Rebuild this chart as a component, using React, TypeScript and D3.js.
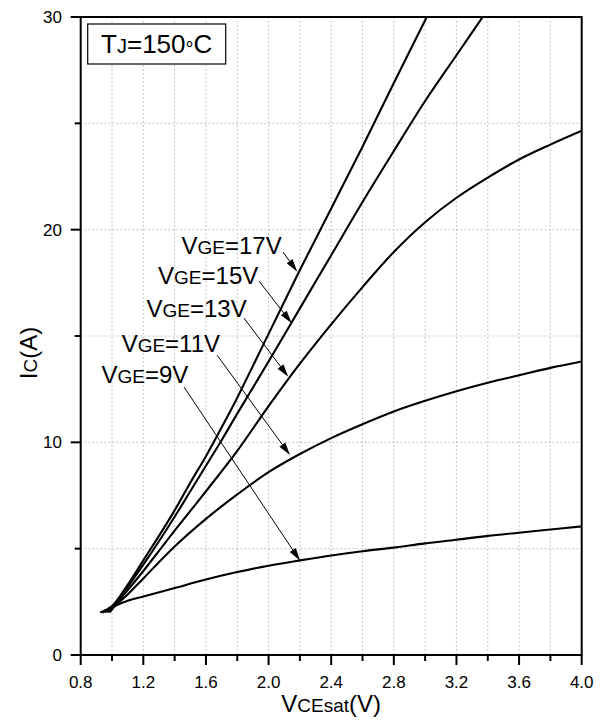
import React from 'react';
import * as d3 from 'd3';

// ---- data: [VCEsat (V), IC (A)] ----
const vge17: [number, number][] = [[0.925,2.0],[1.0,2.3],[1.1,3.3],[1.2,4.45],[1.3,5.6],[1.4,6.8],[1.5,8.1],[1.6,9.35],[1.7,10.7],[1.8,12.1],[2.0,15.1],[2.2,18.1],[2.4,21.0],[2.6,23.9],[2.8,26.9],[3.0,29.85],[3.05,30.6]];
const vge15: [number, number][] = [[0.94,2.0],[1.005,2.3],[1.1,3.2],[1.2,4.25],[1.3,5.35],[1.4,6.5],[1.5,7.7],[1.6,8.9],[1.7,10.1],[1.8,11.35],[2.0,13.8],[2.2,16.3],[2.4,18.8],[2.6,21.3],[2.8,23.7],[3.0,26.05],[3.2,28.2],[3.4,30.35]];
const vge13: [number, number][] = [[0.955,2.0],[1.01,2.3],[1.1,3.05],[1.2,3.95],[1.3,4.9],[1.4,5.85],[1.6,7.7],[1.8,9.6],[2.0,11.7],[2.2,13.7],[2.4,15.55],[2.6,17.3],[2.8,18.95],[3.0,20.35],[3.2,21.5],[3.4,22.45],[3.6,23.3],[3.8,24.0],[4.0,24.65]];
const vge11: [number, number][] = [[0.97,2.0],[1.015,2.3],[1.1,2.85],[1.2,3.6],[1.4,5.1],[1.6,6.4],[1.8,7.55],[2.0,8.6],[2.2,9.45],[2.4,10.2],[2.6,10.85],[2.8,11.45],[3.0,11.95],[3.2,12.4],[3.4,12.8],[3.6,13.15],[3.8,13.5],[4.0,13.8]];
const vge9: [number, number][] = [[0.985,2.0],[1.02,2.3],[1.1,2.55],[1.2,2.75],[1.4,3.15],[1.6,3.55],[1.8,3.9],[2.0,4.2],[2.2,4.45],[2.4,4.68],[2.6,4.88],[2.8,5.05],[3.0,5.25],[3.2,5.42],[3.4,5.6],[3.6,5.75],[3.8,5.9],[4.0,6.05]];

const series = [vge17, vge15, vge13, vge11, vge9];

const xMajorTicks = [0.8, 1.2, 1.6, 2.0, 2.4, 2.8, 3.2, 3.6, 4.0];
const xMinorTicks = [1.0, 1.4, 1.8, 2.2, 2.6, 3.0, 3.4, 3.8];
const xGrid = [1.0, 1.2, 1.4, 1.6, 1.8, 2.0, 2.2, 2.4, 2.6, 2.8, 3.0, 3.2, 3.4, 3.6, 3.8];
const yMajorTicks = [0, 10, 20, 30];
const yMinorTicks = [5, 15, 25];
const yGrid = [5, 10, 15, 20, 25];

const labelVoltages = ['17V', '15V', '13V', '11V', '9V'];
// label end point, arrow start, arrow tip (data units)
const labelEnd: [number, number][] = [[2.084,18.86],[1.934,17.44],[1.86,15.89],[1.69,14.25],[1.487,12.79]];
const arrowFrom: [number, number][] = [[2.092,18.95],[1.939,17.58],[1.843,15.84],[1.671,14.1],[1.46,12.6]];
const arrowTo: [number, number][] = [[2.183,18.02],[2.148,15.6],[2.126,13.08],[2.137,9.4],[2.201,4.43]];

const FONT = '"Liberation Sans", Arial, Helvetica, sans-serif';

export default function App() {
  const W = 607, H = 722;
  const left = 80.7, right = 581.7, top = 17, bottom = 655;
  const x = d3.scaleLinear().domain([0.8, 4.0]).range([left, right]);
  const y = d3.scaleLinear().domain([0, 30]).range([bottom, top]);
  const line = d3.line<[number, number]>()
    .x(d => x(d[0]))
    .y(d => y(d[1]))
    .curve(d3.curveCatmullRom.alpha(0.5));

  const arrows = arrowFrom.map((f, i) => {
    const x0 = x(f[0]), y0 = y(f[1]);
    const x1 = x(arrowTo[i][0]), y1 = y(arrowTo[i][1]);
    const dx = x1 - x0, dy = y1 - y0;
    const len = Math.hypot(dx, dy);
    const ux = dx / len, uy = dy / len;
    const hl = 13, hw = 3.6;
    const bx = x1 - ux * hl, by = y1 - uy * hl;
    const px = -uy, py = ux;
    return {
      x0, y0, bx, by,
      head: `${x1},${y1} ${bx + px * hw},${by + py * hw} ${bx - px * hw},${by - py * hw}`,
    };
  });

  return (
    <svg width={W} height={H} style={{ position: 'absolute', left: 0, top: 0, background: '#fff' }} fontFamily={FONT}>
      <defs>
        <clipPath id="plotClip">
          <rect x={left} y={top} width={right - left} height={bottom - top} />
        </clipPath>
      </defs>
      <rect x={0} y={0} width={W} height={H} fill="#fff" />
      {/* grid */}
      {xGrid.map(v => (
        <line key={'gx' + v} x1={x(v)} x2={x(v)} y1={top} y2={bottom} stroke="#b4b4b4" strokeWidth={1} strokeDasharray="1.5,2.5" />
      ))}
      {yGrid.map(v => (
        <line key={'gy' + v} x1={left} x2={right} y1={y(v)} y2={y(v)} stroke="#b4b4b4" strokeWidth={1} strokeDasharray="1.5,2.5" />
      ))}
      {/* curves */}
      <g clipPath="url(#plotClip)">
        {series.map((s, i) => (
          <path key={i} d={line(s) || ''} fill="none" stroke="#000" strokeWidth={2.1} strokeLinejoin="round" />
        ))}
      </g>
      {/* frame */}
      <rect x={left} y={top} width={right - left} height={bottom - top} fill="none" stroke="#000" strokeWidth={2} />
      {/* x ticks */}
      {xMajorTicks.map(v => (
        <g key={'xt' + v}>
          <line x1={x(v)} x2={x(v)} y1={bottom} y2={bottom + 10} stroke="#000" strokeWidth={2} />
          <text x={x(v)} y={688} textAnchor="middle" fontSize={17} fill="#000">{v.toFixed(1)}</text>
        </g>
      ))}
      {xMinorTicks.map(v => (
        <line key={'xm' + v} x1={x(v)} x2={x(v)} y1={bottom} y2={bottom + 6} stroke="#000" strokeWidth={2} />
      ))}
      {/* y ticks */}
      {yMajorTicks.map(v => (
        <g key={'yt' + v}>
          <line x1={left} x2={left - 10} y1={y(v)} y2={y(v)} stroke="#000" strokeWidth={2} />
          <text x={62} y={y(v) + 6} textAnchor="end" fontSize={17} fill="#000">{v}</text>
        </g>
      ))}
      {yMinorTicks.map(v => (
        <line key={'ym' + v} x1={left} x2={left - 6} y1={y(v)} y2={y(v)} stroke="#000" strokeWidth={2} />
      ))}
      {/* axis titles */}
      <text x={(left + right) / 2} y={712} textAnchor="middle" fontSize={24} fill="#000">
        V<tspan fontSize={19}>CEsat</tspan>(V)
      </text>
      <text transform={`translate(37,353) rotate(-90)`} textAnchor="middle" fontSize={24} fill="#000">
        I<tspan fontSize={19}>C</tspan>(A)
      </text>
      {/* TJ box */}
      <rect x={87.7} y={24} width={138} height={40} fill="#fff" stroke="#000" strokeWidth={1.2} />
      <text x={156.7} y={53.3} textAnchor="middle" fontSize={26} fill="#000">
        T<tspan fontSize={20}>J</tspan>=150<tspan fontSize={20} dy={3}>°</tspan><tspan dy={-3}>C</tspan>
      </text>
      {/* annotations */}
      {labelVoltages.map((lv, i) => (
        <text key={'lb' + i} x={x(labelEnd[i][0])} y={y(labelEnd[i][1])} textAnchor="end" fontSize={24} fill="#000">
          V<tspan fontSize={19}>GE</tspan>={lv}
        </text>
      ))}
      {arrows.map((a, i) => (
        <g key={'ar' + i}>
          <line x1={a.x0} y1={a.y0} x2={a.bx} y2={a.by} stroke="#000" strokeWidth={1} />
          <polygon points={a.head} fill="#000" />
        </g>
      ))}
    </svg>
  );
}
